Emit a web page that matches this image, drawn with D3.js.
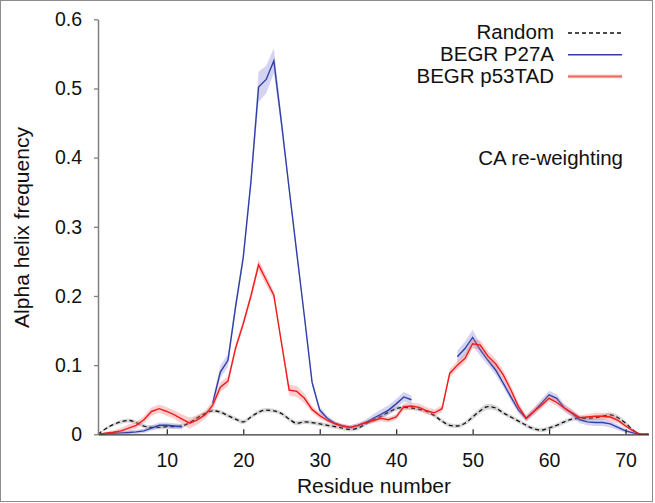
<!DOCTYPE html>
<html>
<head>
<meta charset="utf-8">
<script src="https://cdn.jsdelivr.net/npm/d3@7"></script>
<style>
  html, body { margin: 0; padding: 0; background: #fff; }
  svg { display: block; font-family: "Liberation Sans", Arial, Helvetica, sans-serif; }
</style>
</head>
<body>
<svg id="chart" width="655" height="503"></svg>
<script>
// ---- data ----
const residues = d3.range(1, 74); // 1..73
const xTicks = [10, 20, 30, 40, 50, 60, 70];
const yTicks = [0, 0.1, 0.2, 0.3, 0.4, 0.5, 0.6];
const yTickLabels = ["0", "0.1", "0.2", "0.3", "0.4", "0.5", "0.6"];
const seriesNames = ["Random", "BEGR P27A", "BEGR p53TAD"];

const randomVals = [0, 0.008, 0.014, 0.018, 0.020, 0.017, 0.012, 0.010, 0.010, 0.011,
  0.011, 0.012, 0.017, 0.024, 0.030, 0.034, 0.032, 0.027, 0.022, 0.018,
  0.025, 0.032, 0.035, 0.034, 0.030, 0.022, 0.016, 0.018, 0.017, 0.015,
  0.013, 0.011, 0.009, 0.007, 0.009, 0.015, 0.021, 0.026, 0.032, 0.037,
  0.039, 0.038, 0.036, 0.033, 0.027, 0.019, 0.013, 0.012, 0.016, 0.025,
  0.034, 0.040, 0.038, 0.031, 0.025, 0.019, 0.013, 0.008, 0.006, 0.009,
  0.013, 0.018, 0.022, 0.023, 0.023, 0.024, 0.026, 0.028, 0.024, 0.016,
  0.006, 0, 0];
const randomErr = [0, 0.002, 0.002, 0.003, 0.003, 0.003, 0.003, 0.003, 0.003, 0.003,
  0.003, 0.003, 0.003, 0.003, 0.003, 0.003, 0.003, 0.003, 0.003, 0.003,
  0.003, 0.003, 0.003, 0.003, 0.003, 0.003, 0.003, 0.003, 0.003, 0.003,
  0.003, 0.003, 0.003, 0.003, 0.003, 0.003, 0.003, 0.003, 0.003, 0.003,
  0.003, 0.003, 0.003, 0.003, 0.003, 0.003, 0.003, 0.003, 0.003, 0.004,
  0.004, 0.004, 0.004, 0.003, 0.003, 0.003, 0.003, 0.003, 0.003, 0.003,
  0.003, 0.003, 0.003, 0.003, 0.003, 0.003, 0.003, 0.004, 0.004, 0.003,
  0.002, 0, 0];

const p27aVals = [0, 0.001, 0.0015, 0.002, 0.0025, 0.0035, 0.005, 0.009, 0.013, 0.013,
  0.012, 0.011, null, null, null, 0.045, 0.090, 0.107, 0.185, 0.256,
  0.365, 0.502, 0.513, 0.540, 0.450, 0.355, 0.262, 0.170, 0.075, 0.035,
  0.023, 0.016, 0.012, 0.010, 0.013, 0.017, 0.023, 0.029, 0.035, 0.044,
  0.054, 0.050, null, null, null, null, null, 0.112, 0.124, 0.140,
  0.122, 0.107, 0.093, 0.074, 0.054, 0.035, 0.023, 0.033, 0.045, 0.057,
  0.052, 0.038, 0.030, 0.021, 0.018, 0.017, 0.017, 0.015, 0.010, 0.005,
  0.002, 0, 0];
const p27aErr = [0, 0.002, 0.002, 0.003, 0.003, 0.003, 0.003, 0.004, 0.004, 0.004,
  0.004, 0.004, null, null, null, 0.006, 0.009, 0.009, 0.008, 0.008,
  0.008, 0.022, 0.020, 0.018, 0.010, 0.006, 0.005, 0.005, 0.005, 0.005,
  0.004, 0.003, 0.003, 0.003, 0.003, 0.004, 0.006, 0.007, 0.007, 0.007,
  0.007, 0.006, null, null, null, null, null, 0.009, 0.010, 0.011,
  0.009, 0.007, 0.007, 0.006, 0.006, 0.005, 0.004, 0.005, 0.006, 0.006,
  0.006, 0.005, 0.005, 0.005, 0.005, 0.005, 0.005, 0.005, 0.004, 0.003,
  0.002, 0, 0];

const p53Vals = [0, 0.0015, 0.003, 0.005, 0.009, 0.013, 0.021, 0.033, 0.037, 0.033,
  0.028, 0.022, 0.016, 0.021, 0.028, 0.042, 0.068, 0.077, 0.125, 0.160,
  0.200, 0.245, 0.223, 0.201, 0.132, 0.064, 0.062, 0.052, 0.036, 0.027,
  0.020, 0.015, 0.012, 0.010, 0.013, 0.017, 0.020, 0.023, 0.021, 0.025,
  0.040, 0.041, 0.039, 0.034, 0.031, 0.037, 0.088, 0.100, 0.110, 0.131,
  0.129, 0.113, 0.102, 0.086, 0.064, 0.040, 0.023, 0.033, 0.042, 0.052,
  0.046, 0.038, 0.031, 0.024, 0.025, 0.026, 0.026, 0.025, 0.020, 0.012,
  0.005, 0, 0];
const p53Err = [0, 0.002, 0.003, 0.004, 0.005, 0.005, 0.005, 0.006, 0.006, 0.006,
  0.006, 0.007, 0.008, 0.007, 0.006, 0.006, 0.007, 0.007, 0.006, 0.006,
  0.006, 0.008, 0.007, 0.006, 0.006, 0.008, 0.008, 0.007, 0.005, 0.004,
  0.003, 0.003, 0.003, 0.003, 0.003, 0.003, 0.004, 0.004, 0.004, 0.004,
  0.005, 0.005, 0.005, 0.005, 0.005, 0.005, 0.006, 0.006, 0.007, 0.007,
  0.007, 0.007, 0.007, 0.007, 0.007, 0.006, 0.005, 0.005, 0.005, 0.005,
  0.005, 0.005, 0.005, 0.004, 0.004, 0.005, 0.005, 0.005, 0.004, 0.003,
  0.002, 0, 0];

// ---- layout ----
const svg = d3.select("#chart");
const x = d3.scaleLinear().domain([1, 73]).range([98, 648.5]);
const y = d3.scaleLinear().domain([0, 0.6]).range([434.3, 19.3]);

// outer frame
svg.append("rect").attr("x", 0.5).attr("y", 0.5).attr("width", 652).attr("height", 501)
  .attr("fill", "#fff").attr("stroke", "#8c8c8c").attr("stroke-width", 1);

function mk(vals, errs) {
  return residues.map((r, i) => ({ r, v: vals[i], e: errs[i] }));
}
const dRandom = mk(randomVals, randomErr);
const dP27 = mk(p27aVals, p27aErr);
const dP53 = mk(p53Vals, p53Err);

const defined = d => d.v !== null;

function band(curve) {
  return d3.area().defined(defined).curve(curve)
    .x(d => x(d.r)).y0(d => y(Math.max(0, d.v - d.e))).y1(d => y(d.v + d.e));
}
function line(curve) {
  return d3.line().defined(defined).curve(curve).x(d => x(d.r)).y(d => y(d.v));
}

const plot = svg.append("g");

// random
plot.append("path").datum(dRandom).attr("d", band(d3.curveMonotoneX))
  .attr("fill", "rgba(140,140,140,0.35)");
plot.append("path").datum(dRandom).attr("d", line(d3.curveMonotoneX))
  .attr("fill", "none").attr("stroke", "#111").attr("stroke-width", 1.3)
  .attr("stroke-dasharray", "4,3");

// P27A
plot.append("path").datum(dP27).attr("d", band(d3.curveLinear))
  .attr("fill", "rgba(120,120,215,0.32)");
plot.append("path").datum(dP27).attr("d", line(d3.curveLinear))
  .attr("fill", "none").attr("stroke", "#2f3fa6").attr("stroke-width", 1.4);

// p53TAD
plot.append("path").datum(dP53).attr("d", band(d3.curveLinear))
  .attr("fill", "rgba(240,110,110,0.34)");
plot.append("path").datum(dP53).attr("d", line(d3.curveLinear))
  .attr("fill", "none").attr("stroke", "#ee1c1c").attr("stroke-width", 1.4);

// axes
const xAxis = svg.append("g").attr("transform", `translate(0,${y(0)})`)
  .call(d3.axisBottom(x).tickValues(xTicks).tickSizeInner(-5).tickSizeOuter(0).tickPadding(19));
xAxis.select(".domain").attr("stroke", "#333").attr("stroke-width", 1.2);
xAxis.selectAll(".tick line").attr("stroke", "#222").attr("stroke-width", 1.2);
xAxis.selectAll(".tick text").attr("font-size", 19.5).attr("fill", "#111")
  .attr("font-family", "Liberation Sans, Arial, sans-serif");

const yAxis = svg.append("g").attr("transform", `translate(${x(1)},0)`)
  .call(d3.axisLeft(y).tickValues(yTicks).tickFormat((d, i) => yTickLabels[i])
    .tickSizeInner(4).tickSizeOuter(0).tickPadding(12));
yAxis.select(".domain").attr("stroke", "#808080").attr("stroke-width", 1.5);
yAxis.selectAll(".tick line").attr("stroke", "#808080").attr("stroke-width", 1.3);
yAxis.selectAll(".tick text").attr("font-size", 19.5).attr("fill", "#111")
  .attr("font-family", "Liberation Sans, Arial, sans-serif");

// axis titles
svg.append("text").attr("x", 374).attr("y", 493).attr("text-anchor", "middle")
  .attr("font-size", 21).attr("fill", "#111").text("Residue number");
svg.append("text").attr("transform", "translate(28.5,227.5) rotate(-90)")
  .attr("text-anchor", "middle").attr("font-size", 21).attr("fill", "#111")
  .text("Alpha helix frequency");

// legend
const legendRows = [
  { name: seriesNames[0], color: "#111", dash: "4,3", w: 1.3 },
  { name: seriesNames[1], color: "#2f3fa6", dash: null, w: 1.5 },
  { name: seriesNames[2], color: "#ee6a5e", dash: null, w: 2 }
];
const lg = svg.append("g");
legendRows.forEach((row, i) => {
  const by = 39.3 + i * 21.7;
  lg.append("text").attr("x", 554).attr("y", by).attr("text-anchor", "end")
    .attr("font-size", 20.5).attr("fill", "#111").text(row.name);
  const ly = by - 6.3;
  if (i === 2) {
    lg.append("rect").attr("x", 568).attr("y", ly - 2).attr("width", 54).attr("height", 4)
      .attr("fill", "rgba(240,110,110,0.28)");
  }
  lg.append("line").attr("x1", 568).attr("x2", 622).attr("y1", ly).attr("y2", ly)
    .attr("stroke", row.color).attr("stroke-width", row.w)
    .attr("stroke-dasharray", row.dash);
});

// annotation
svg.append("text").attr("x", 623).attr("y", 164.5).attr("text-anchor", "end")
  .attr("font-size", 20.5).attr("fill", "#111").text("CA re-weighting");
</script>
</body>
</html>
